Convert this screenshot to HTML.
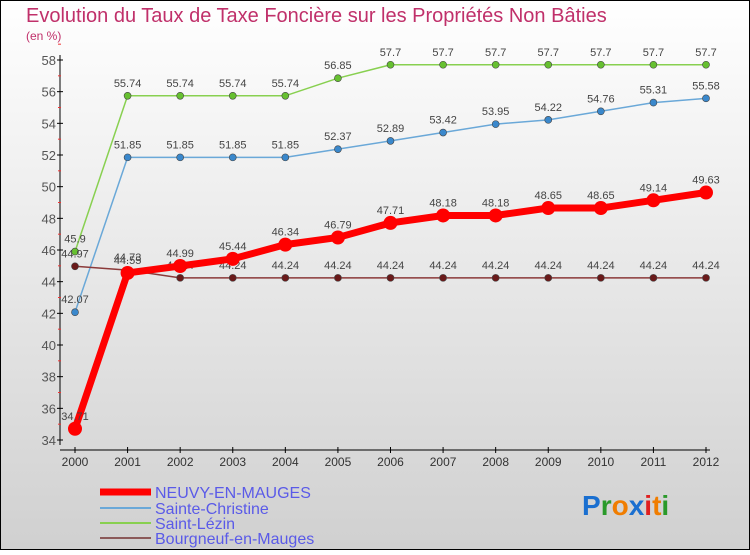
<!DOCTYPE html>
<html><head><meta charset="utf-8"><style>
body{margin:0;width:750px;height:550px;overflow:hidden;}
svg text{font-family:"Liberation Sans",sans-serif;}
</style></head><body>
<svg width="750" height="550" viewBox="0 0 750 550">
<defs><linearGradient id="bg" x1="0" y1="0" x2="0" y2="1"><stop offset="0" stop-color="#ffffff"/><stop offset="1" stop-color="#d0d0d0"/></linearGradient></defs>
<rect x="0" y="0" width="750" height="550" fill="url(#bg)" stroke="#000" stroke-width="2"/>
<text x="26" y="22" font-size="20" fill="#c0306a">Evolution du Taux de Taxe Foncière sur les Propriétés Non Bâties</text>
<text x="26" y="40" font-size="12" fill="#c0306a">(en %)</text>
<g id="axes"></g>
<g id="series"></g>
<g id="legend"></g>
<text x="582" y="515" font-size="28" font-weight="bold"><tspan fill="#1a6fd0">P</tspan><tspan fill="#2a9a2a">r</tspan><tspan fill="#f07d00">o</tspan><tspan fill="#1a6fd0">x</tspan><tspan fill="#e02020">i</tspan><tspan fill="#f07d00">t</tspan><tspan fill="#2a9a2a">i</tspan></text>
</svg>
<script>
const years=[2000,2001,2002,2003,2004,2005,2006,2007,2008,2009,2010,2011,2012];
const neuvy=[34.71,44.55,44.99,45.44,46.34,46.79,47.71,48.18,48.18,48.65,48.65,49.14,49.63];
const christine=[42.07,51.85,51.85,51.85,51.85,52.37,52.89,53.42,53.95,54.22,54.76,55.31,55.58];
const lezin=[45.9,55.74,55.74,55.74,55.74,56.85,57.7,57.7,57.7,57.7,57.7,57.7,57.7];
const bourgneuf=[44.97,44.73,44.24,44.24,44.24,44.24,44.24,44.24,44.24,44.24,44.24,44.24,44.24];
const yTicks=[34,36,38,40,42,44,46,48,50,52,54,56,58];
const names=["NEUVY-EN-MAUGES","Sainte-Christine","Saint-Lézin","Bourgneuf-en-Mauges"];
const NS="http://www.w3.org/2000/svg";
const X=i=>75+i*(706-75)/(years.length-1);
const Y=v=>440-(v-34)*(380/24);
function mk(tag,at,parent){const e=document.createElementNS(NS,tag);for(const k in at)e.setAttribute(k,at[k]);parent.appendChild(e);return e;}
const ax=document.getElementById('axes');
let a=mk('line',{x1:60,y1:55,x2:60,y2:445,stroke:'#000'},ax);


a=mk('line',{x1:60,y1:450,x2:710,y2:450,stroke:'#000'},ax);


yTicks.forEach(t=>{const y=Y(t);
 mk('line',{x1:57,y1:y,x2:63,y2:y,stroke:'#000'},ax);
 mk('line',{x1:58,y1:y-(380/24),x2:61,y2:y-(380/24),stroke:'#e33'},ax);
 const tx=mk('text',{x:56,y:y+5,'font-size':13,fill:'#555','text-anchor':'end'},ax);tx.textContent=t;
 
 
});
years.forEach((yr,i)=>{const x=X(i);
 mk('line',{x1:x,y1:447,x2:x,y2:453,stroke:'#000'},ax);
 const tx=mk('text',{x:x,y:466,'font-size':12,fill:'#333','text-anchor':'middle'},ax);tx.textContent=yr;
 
 
});
const sg=document.getElementById('series');
const defs=[[lezin,'#88d050','#66c030',1.5,3.5,'saint-lezin'],[christine,'#6aa8d8','#3a88cc',1.5,3.5,'sainte-christine'],[bourgneuf,'#8b3a3a','#6a1a1a',1.5,3.5,'bourgneuf'],[neuvy,'#ff0000','#ff0000',7,7,'neuvy']];
defs.forEach(([d,lc,pc,w,r,n])=>{
 const g=mk('g',{},sg);
 
 
 const pl=mk('polyline',{points:d.map((v,i)=>X(i)+','+Y(v)).join(' '),fill:'none',stroke:lc,'stroke-width':w},g);
 
 
 d.forEach((v,i)=>{
  const c=mk('circle',{cx:X(i),cy:Y(v),r:r,fill:pc,stroke:'#444','stroke-width':n=='neuvy'?0:0.6},g);
  
  
  const t=mk('text',{x:X(i),y:Y(v)-9,'font-size':11,fill:'#444','text-anchor':'middle'},g);t.textContent=v.toFixed(2).replace(/0$/,'').replace(/\.$/,'');
  
  
 });
});
const lg=document.getElementById('legend');
const lcols=['#ff0000','#6aa8d8','#88d050','#8b5a5a'];const lw=[7,2,2,2];const ly=[492,508,523,538];
names.forEach((nm,i)=>{
 const l=mk('line',{x1:100,y1:ly[i],x2:151,y2:ly[i],stroke:lcols[i],'stroke-width':lw[i]},lg);
 
 
 const t=mk('text',{x:155,y:ly[i]+6,'font-size':16,fill:'#5a5ae8'},lg);t.textContent=nm;
 
 
});
</script>
</body></html>
